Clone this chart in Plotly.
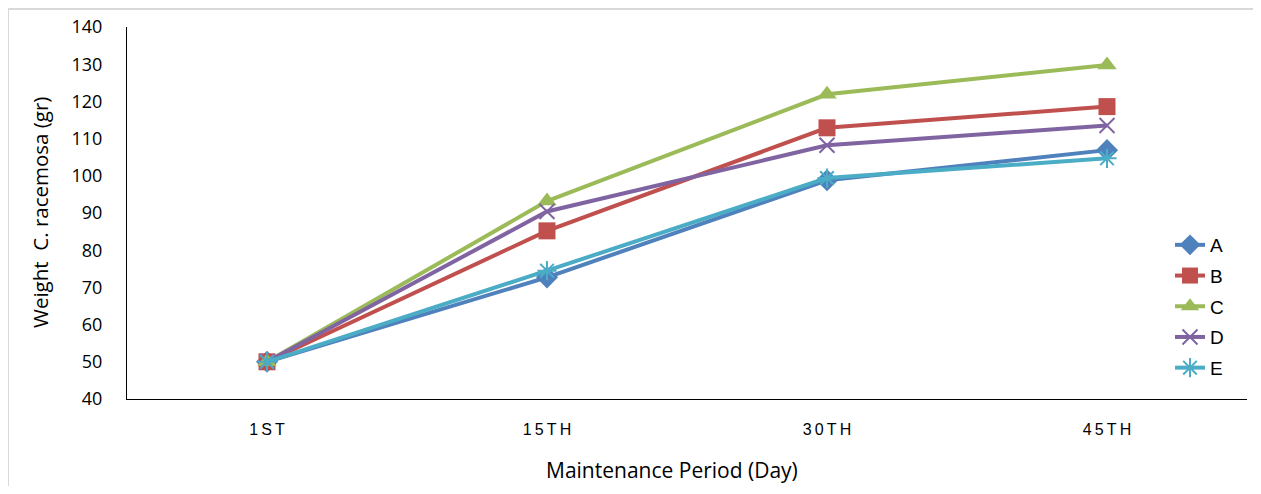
import plotly.graph_objects as go

periods = ["1ST", "15TH", "30TH", "45TH"]
period_labels = ["1\u2009S\u2009T", "1\u20095\u2009T\u2009H", "3\u20090\u2009T\u2009H", "4\u20095\u2009T\u2009H"]
series_names = ["A", "B", "C", "D", "E"]
A = [50, 72.7, 98.8, 106.9]
B = [50, 85.2, 112.9, 118.6]
C = [50, 93.2, 121.9, 129.8]
D = [50, 90.4, 108.2, 113.5]
E = [50, 74.5, 99.4, 104.7]
y_ticks = [40, 50, 60, 70, 80, 90, 100, 110, 120, 130, 140]

values = [A, B, C, D, E]
colors = ["#4F81BD", "#C0504D", "#9BBB59", "#8064A2", "#4BACC6"]
symbols = ["diamond", "square", "triangle-up", "x-thin-open", "asterisk-open"]
sizes = [17, 17, 17, 15, 16]

fig = go.Figure()
for name, vals, col, sym, sz in zip(series_names, values, colors, symbols, sizes):
    marker = dict(symbol=sym, size=sz, color=col)
    if sym.endswith("open"):
        marker["line"] = dict(color=col, width=2)
    fig.add_trace(go.Scatter(
        x=periods, y=vals, name=name, mode="lines+markers", legendgroup=name,
        line=dict(color=col, width=4), marker=marker,
    ))

# page has an 8px body margin; keep the figure inside the viewport
OFF = 8
W, H = 1261 - 2 * OFF, 494 - 2 * OFF
# plot area in page coordinates
PX0, PX1, PY0, PY1 = 127, 1247, 27, 399
L = PX0 - OFF
T = PY0 - OFF
R = W - (PX1 - OFF)
B_ = H - (PY1 - OFF)
pw = PX1 - PX0
ph = PY1 - PY0


def px(xpage):
    return (xpage - PX0) / pw


def py(ypage):
    return (PY1 - ypage) / ph


fig.update_layout(
    width=W, height=H,
    margin=dict(l=L, r=R, t=T, b=B_),
    paper_bgcolor="white", plot_bgcolor="white",
    font=dict(family="Open Sans, Liberation Sans, sans-serif", color="#000000"),
    showlegend=True,
    legend=dict(
        x=px(1170), y=py(226), xanchor="left", yanchor="top",
        font=dict(size=19, family="Liberation Sans, sans-serif"),
        bgcolor="rgba(0,0,0,0)", tracegroupgap=3,
    ),
    xaxis=dict(
        type="category", tickmode="array", tickvals=periods, ticktext=period_labels,
        showline=True, linecolor="#000000", linewidth=1, showgrid=False, zeroline=False,
        ticks="", tickfont=dict(size=16, family="Liberation Sans, sans-serif"),
        ticklabelstandoff=16, range=[-0.5, 3.5],
    ),
    yaxis=dict(
        range=[40, 140], tickmode="array", tickvals=y_ticks,
        showline=True, linecolor="#000000", linewidth=1, showgrid=False, zeroline=False,
        ticks="", tickfont=dict(size=18, family="Open Sans, sans-serif"),
        ticklabelstandoff=20,
    ),
    annotations=[
        dict(text="Weight  C. racemosa (gr)", xref="paper", yref="paper",
             x=px(40), y=py(213), textangle=-90, showarrow=False,
             font=dict(size=20.5), xanchor="center", yanchor="middle"),
        dict(text="Maintenance Period (Day)", xref="paper", yref="paper",
             x=px(672), y=py(470), showarrow=False,
             font=dict(size=21), xanchor="center", yanchor="middle"),
    ],
    shapes=[
        dict(type="rect", xref="paper", yref="paper",
             x0=px(8), x1=px(1261 + 20),
             y0=py(494 + 20), y1=py(9),
             line=dict(color="#D9D9D9", width=2), fillcolor="rgba(0,0,0,0)", layer="below"),
    ],
)

fig.write_html("out.html")
